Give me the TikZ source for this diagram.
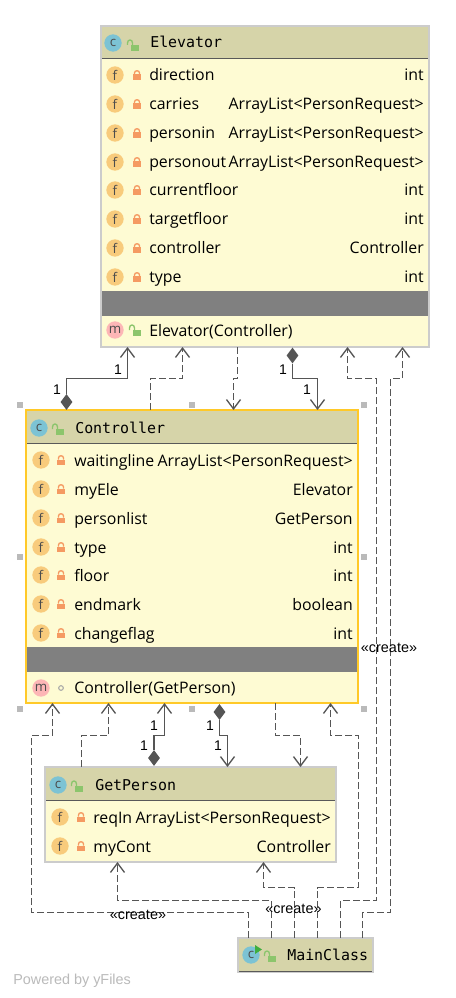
\documentclass[tikz,border=0pt]{standalone}
\usepackage{fontspec}
\setmainfont{Open Sans}
\setmonofont{DejaVu Sans Mono}
\newfontfamily\labelfont{Liberation Sans}
\usetikzlibrary{arrows.meta,shapes.geometric}
\definecolor{headfill}{HTML}{D6D4A9}
\definecolor{bodyfill}{HTML}{FEFBD3}
\definecolor{plainedge}{HTML}{CCCCCC}
\definecolor{pickedge}{HTML}{FFC928}
\definecolor{linkgray}{HTML}{555555}
\definecolor{lockorange}{HTML}{F59A62}
\definecolor{lockgreen}{HTML}{8CC56C}
\definecolor{rungreen}{HTML}{3FAE3F}
\definecolor{iconc}{HTML}{7CC3D4}
\definecolor{iconf}{HTML}{F8CB7C}
\definecolor{iconm}{HTML}{FDB6B6}
\begin{document}
\begin{tikzpicture}[
    x=0.75pt, y=-0.75pt,
    classbox/.style={
        draw=plainedge,
        line width=1.5pt,
        fill=bodyfill,
        rectangle,
        anchor=north west,
        inner sep=0pt,
        outer sep=0pt
    },
    headbox/.style={
        fill=headfill,
        rectangle,
        anchor=north west,
        inner sep=0pt,
        outer sep=0pt
    },
    graybar/.style={
        fill=black!50,
        rectangle,
        anchor=north west,
        inner sep=0pt,
        outer sep=0pt
    },
    icon/.style={
        circle,
        inner sep=0pt,
        minimum size=13pt,
        font=\fontsize{10}{10}\selectfont,
        text=black!70
    },
    classname/.style={anchor=base west, inner sep=0pt, font=\fontsize{11.2}{12}\ttfamily},
    fieldname/.style={anchor=base west, inner sep=0pt, font=\fontsize{11.9}{13}\selectfont},
    fieldtype/.style={anchor=base east, inner sep=0pt, font=\fontsize{11.9}{13}\selectfont},
    mult/.style={inner sep=0pt, font=\fontsize{10.5}{12}\labelfont},
    stereo/.style={inner sep=0pt, font=\fontsize{10.8}{12}\labelfont},
    handle/.style={fill=black!27, rectangle, inner sep=0pt, minimum size=4.5pt},
    compdot/.style={fill=linkgray, diamond, inner sep=0pt, minimum width=9pt, minimum height=12pt, aspect=0.75},
    assoc/.style={draw=linkgray, line width=1pt, -{Straight Barb[length=7pt,width=10.5pt]}},
    dep/.style={draw=linkgray, line width=1pt, dash pattern=on 5pt off 2.5pt, -{Straight Barb[length=7pt,width=10.5pt]}},
    lockshut/.pic={
        \fill[lockorange] (-4,-0.5) rectangle (4,5);
        \draw[lockorange, line width=1pt] (-2.5,-0.5) -- (-2.5,-2) .. controls (-2.5,-5) and (2.5,-5) .. (2.5,-2) -- (2.5,-0.5);
    },
    lockopen/.pic={
        \fill[lockgreen] (-2,0) rectangle (6,6);
        \draw[lockgreen, line width=1pt] (-0.5,0) -- (-0.5,-2) .. controls (-0.5,-6) and (-5.5,-6) .. (-5.5,-2) -- (-5.5,0);
    }
]
    \useasboundingbox (0,0) rectangle (456,998);
    \fill[white] (0,0) rectangle (456,998);

    % Elevator
    \node[classbox, minimum width=246pt, minimum height=240.75pt] (elevator) at (101,26) {};
    \node[headbox, minimum width=244.5pt, minimum height=24pt] (elevator head) at (102,27) {};
    \draw[black!65, line width=0.75pt] (elevator head.south west) -- (elevator head.south east);
    \node[graybar, minimum width=244.5pt, minimum height=18.75pt] (elevator gray) at (102,291) {};
    \node[icon, fill=iconc] (elevator c) at (113,43) {c};
    \pic at (133,45) {lockopen};
    \node[classname] (elevator title) at (150,48) {Elevator};
    \foreach \y/\fname/\ftype [count=\i] in {
        75/direction/int,
        104/carries/ArrayList<PersonRequest>,
        133/personin/ArrayList<PersonRequest>,
        162/personout/ArrayList<PersonRequest>,
        190/currentfloor/int,
        219/targetfloor/int,
        248/controller/Controller,
        277/type/int} {
        \node[icon, fill=iconf] (elevator f\i) at (115,\y) {f};
        \pic at (137,\y) {lockshut};
        \node[fieldname] (elevator n\i) at (149,\y+6) {\fname};
        \node[fieldtype] (elevator t\i) at (424,\y+6) {\ftype};
    }
    \node[icon, fill=iconm] (elevator m) at (115,330) {m};
    \pic at (135,330) {lockopen};
    \node[fieldname] (elevator ctor) at (149,336) {Elevator(Controller)};

    % Controller
    \node[classbox, draw=pickedge, minimum width=249pt, minimum height=219.75pt] (controller) at (26,410) {};
    \node[headbox, minimum width=247.5pt, minimum height=24.5pt] (controller head) at (27,411) {};
    \draw[black!65, line width=0.75pt] (controller head.south west) -- (controller head.south east);
    \node[graybar, minimum width=247.5pt, minimum height=18.75pt] (controller gray) at (27,647) {};
    \node[icon, fill=iconc] (controller c) at (39,428) {c};
    \pic at (58,429) {lockopen};
    \node[classname] (controller title) at (75,433) {Controller};
    \foreach \y/\fname/\ftype [count=\i] in {
        460/waitingline/ArrayList<PersonRequest>,
        489/myEle/Elevator,
        518/personlist/GetPerson,
        547/type/int,
        575/floor/int,
        604/endmark/boolean,
        633/changeflag/int} {
        \node[icon, fill=iconf] (controller f\i) at (41,\y) {f};
        \pic at (61,\y) {lockshut};
        \node[fieldname] (controller n\i) at (74,\y+6) {\fname};
        \node[fieldtype] (controller t\i) at (353,\y+6) {\ftype};
    }
    \node[icon, fill=iconm] (controller m) at (41,688) {m};
    \node[circle, draw=black!35, line width=0.75pt, inner sep=0pt, minimum size=3.5pt] (controller dot) at (61,688) {};
    \node[fieldname] (controller ctor) at (74,693) {Controller(GetPerson)};

    % GetPerson
    \node[classbox, minimum width=218.25pt, minimum height=71.25pt] (getperson) at (45,767) {};
    \node[headbox, minimum width=216.75pt, minimum height=24pt] (getperson head) at (46,768) {};
    \draw[black!65, line width=0.75pt] (getperson head.south west) -- (getperson head.south east);
    \node[icon, fill=iconc] (getperson c) at (58,785) {c};
    \pic at (77,786) {lockopen};
    \node[classname] (getperson title) at (95,790) {GetPerson};
    \foreach \y/\fname/\ftype [count=\i] in {
        817/reqIn/ArrayList<PersonRequest>,
        846/myCont/Controller} {
        \node[icon, fill=iconf] (getperson f\i) at (60,\y) {f};
        \pic at (81,\y) {lockshut};
        \node[fieldname] (getperson n\i) at (93,\y+6) {\fname};
        \node[fieldtype] (getperson t\i) at (331,\y+6) {\ftype};
    }

    % MainClass
    \node[classbox, fill=headfill, minimum width=101.25pt, minimum height=25.5pt] (mainclass) at (238,938) {};
    \draw[black!65, line width=0.75pt] (239,971) -- (372,971);
    \node[icon, fill=iconc] (mainclass c) at (251,955) {c};
    \fill[rungreen] (255,945) -- (262,949.5) -- (255,954) -- cycle;
    \pic at (270,956) {lockopen};
    \node[classname] (mainclass title) at (287,960) {MainClass};

    % Punti di aggancio
    \foreach \pname/\x in {s1/127.5, s2/182.5, s3/237.5, s4/347.5, s5/402.5} \coordinate (\pname) at (\x,347);
    \foreach \pname/\x in {t1/150.5, t2/233.5, t3/317.5} \coordinate (\pname) at (\x,410);
    \foreach \pname/\x in {b1/52.5, b2/108.5, b3/164.5, b4/275.5, b5/330.5} \coordinate (\pname) at (\x,703);
    \foreach \pname/\x in {g1/81.5, g2/227.5, g3/300.5} \coordinate (\pname) at (\x,767);
    \foreach \pname/\x in {h1/117.5, h2/263.5} \coordinate (\pname) at (\x,862);
    \foreach \pname/\x in {m1/248.5, m2/271.5, m3/294.5, m4/317.5, m5/340.5, m6/362.5} \coordinate (\pname) at (\x,938);
    \coordinate (busa) at (0,378.5);
    \coordinate (busb) at (0,735.5);
    \coordinate (busc) at (0,887.5);
    \coordinate (busd) at (0,900.5);
    \coordinate (buse) at (0,912.5);
    \coordinate (raila) at (31.5,0);
    \coordinate (railb) at (358.5,0);
    \coordinate (railc) at (376.5,0);
    \coordinate (raild) at (390.5,0);

    % Rombi
    \node[compdot] (dia1) at (66.5,402) {};
    \node[compdot] (dia2) at (292.5,355.5) {};
    \node[compdot] (dia3) at (154,758) {};
    \node[compdot] (dia4) at (219.5,712) {};

    % Collegamenti
    \draw[assoc] (dia1.north) -- (dia1.north |- busa) -| (s1);
    \draw[dep] (t1) -- (t1 |- busa) -| (s2);
    \draw[dep] (s3) -- (s3 |- busa) -| (t2);
    \draw[assoc] (dia2.south) -- (dia2.south |- busa) -| (t3);
    \draw[dep] (m5) -- (m5 |- busd) -| (railc |- busa) -| (s4);
    \draw[dep] (m6) -- (m6 |- buse) -| (raild |- busa) -| (s5);
    \draw[dep] (m1) -- (m1 |- buse) -| (raila |- busb) -| (b1);
    \draw[dep] (g1) -- (g1 |- busb) -| (b2);
    \draw[assoc] (dia3.north) -- (dia3.north |- busb) -| (b3);
    \draw[assoc] (dia4.south) -- (dia4.south |- busb) -| (g2);
    \draw[dep] (b4) -- (b4 |- busb) -| (g3);
    \draw[dep] (m4) -- (m4 |- busc) -| (railb |- busb) -| (b5);
    \draw[dep] (m2) -- (m2 |- busd) -| (h1);
    \draw[dep] (m3) -- (m3 |- busc) -| (h2);

    % Etichette
    \foreach \x/\y [count=\i] in {118/370, 57/390, 283/370, 307/390, 154/726, 144/746, 210/726, 218/746}
        \node[mult] (mult\i) at (\x,\y) {1};
    \node[stereo] (create a) at (389,648) {«create»};
    \node[stereo] (create b) at (138,915) {«create»};
    \node[stereo] (create c) at (293.5,909) {«create»};

    % Quadratini di selezione
    \foreach \x/\y [count=\i] in {20/405, 192/405, 364/405, 20/557, 364/557, 20/709, 192/709, 364/709}
        \node[handle] (handle\i) at (\x,\y) {};

    \node[anchor=base west, inner sep=0pt, text=black!27, font=\fontsize{10.8}{12}\labelfont] (powered) at (13,984) {Powered by yFiles};
\end{tikzpicture}
\end{document}
